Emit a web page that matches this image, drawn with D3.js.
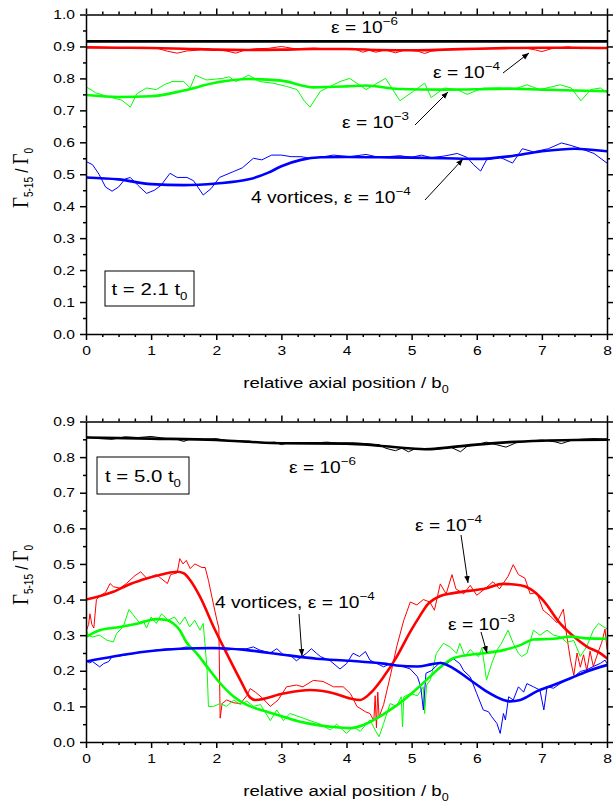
<!DOCTYPE html>
<html>
<head>
<meta charset="utf-8">
<script src="https://cdn.jsdelivr.net/npm/d3@7"></script>
<style>
  html, body { margin: 0; padding: 0; background: #fff; }
  svg { display: block; }
  text { font-family: "Liberation Sans", Arial, sans-serif; fill: #000; }
</style>
</head>
<body>
<svg id="chart" width="613" height="809"></svg>
<script>
// ---- axis ticks ----
const xTicks = [0, 1, 2, 3, 4, 5, 6, 7, 8];
const topYTicks = [0.0, 0.1, 0.2, 0.3, 0.4, 0.5, 0.6, 0.7, 0.8, 0.9, 1.0];
const botYTicks = [0.0, 0.1, 0.2, 0.3, 0.4, 0.5, 0.6, 0.7, 0.8, 0.9];

// ---- t = 2.1 t0 : smoothed (thick) and raw (thin) profiles ----
const topBlackSmooth = [[0,0.916],[2,0.916],[4,0.916],[6,0.916],[8,0.916]];
const topBlackRaw = [[0,0.917],[1,0.916],[2,0.917],[3,0.916],[4,0.916],[5,0.917],[6,0.916],[7,0.916],[8,0.916]];

const topRedSmooth = [[0,0.897],[0.5,0.896],[1,0.895],[1.5,0.893],[2,0.890],[2.5,0.889],[3,0.890],[3.5,0.892],[4,0.892],[4.5,0.889],[5,0.888],[5.5,0.890],[6,0.893],[6.5,0.895],[7,0.896],[7.5,0.896],[8,0.895]];
const topRedRaw = [[0,0.898],[0.3,0.897],[0.6,0.896],[0.9,0.897],[1.1,0.894],[1.25,0.885],[1.4,0.879],[1.55,0.886],[1.7,0.888],[1.85,0.893],[2.0,0.890],[2.15,0.886],[2.3,0.879],[2.45,0.889],[2.6,0.893],[2.8,0.894],[3.0,0.900],[3.2,0.893],[3.5,0.895],[3.8,0.891],[4.1,0.894],[4.25,0.882],[4.35,0.888],[4.45,0.882],[4.6,0.889],[4.75,0.880],[4.9,0.889],[5.1,0.885],[5.2,0.878],[5.3,0.885],[5.5,0.890],[5.8,0.893],[6.1,0.892],[6.4,0.896],[6.7,0.897],[6.9,0.889],[7.0,0.884],[7.15,0.893],[7.4,0.899],[7.6,0.893],[7.8,0.896],[8,0.894]];

const topGreenSmooth = [[0,0.748],[0.5,0.742],[1,0.744],[1.5,0.762],[2,0.787],[2.5,0.798],[3,0.793],[3.5,0.772],[4,0.775],[4.3,0.778],[4.8,0.767],[5.5,0.765],[6,0.766],[6.5,0.768],[7,0.765],[7.5,0.762],[8,0.760]];
const topGreenRaw = [[0,0.774],[0.15,0.755],[0.35,0.742],[0.55,0.732],[0.68,0.71],[0.78,0.752],[0.93,0.77],[1.08,0.765],[1.2,0.78],[1.32,0.79],[1.5,0.79],[1.6,0.77],[1.68,0.81],[1.85,0.795],[2.1,0.80],[2.2,0.805],[2.3,0.79],[2.5,0.81],[2.67,0.79],[2.87,0.785],[3.08,0.775],[3.24,0.765],[3.35,0.73],[3.44,0.71],[3.6,0.76],[3.9,0.79],[4.05,0.80],[4.3,0.765],[4.6,0.80],[4.82,0.73],[5.03,0.76],[5.2,0.785],[5.3,0.74],[5.5,0.77],[5.7,0.765],[5.85,0.75],[6.1,0.77],[6.36,0.77],[6.56,0.765],[6.77,0.78],[6.97,0.765],[7.28,0.78],[7.45,0.77],[7.6,0.73],[7.75,0.765],[7.9,0.77],[8,0.755]];

const topBlueSmooth = [[0,0.49],[0.5,0.484],[1,0.469],[1.5,0.466],[2,0.471],[2.5,0.484],[2.8,0.505],[3.0,0.525],[3.3,0.545],[3.6,0.553],[4,0.554],[4.5,0.553],[5,0.552],[5.5,0.550],[6,0.548],[6.5,0.556],[7,0.572],[7.5,0.580],[8,0.572]];
const topBlueRaw = [[0,0.54],[0.1,0.53],[0.2,0.50],[0.3,0.46],[0.4,0.447],[0.5,0.46],[0.6,0.485],[0.68,0.49],[0.8,0.465],[0.93,0.44],[1.05,0.45],[1.15,0.465],[1.29,0.503],[1.4,0.49],[1.55,0.49],[1.65,0.48],[1.8,0.435],[1.92,0.455],[2.05,0.49],[2.26,0.508],[2.4,0.52],[2.57,0.55],[2.7,0.545],[2.85,0.56],[3.0,0.56],[3.15,0.555],[3.3,0.555],[3.45,0.55],[3.6,0.553],[3.8,0.56],[4.05,0.555],[4.3,0.562],[4.5,0.553],[4.82,0.558],[5.0,0.553],[5.15,0.56],[5.3,0.552],[5.5,0.557],[5.7,0.565],[5.85,0.553],[5.95,0.53],[6.06,0.51],[6.15,0.545],[6.36,0.553],[6.55,0.535],[6.7,0.58],[6.87,0.57],[7.1,0.58],[7.3,0.598],[7.45,0.59],[7.6,0.58],[7.8,0.565],[8,0.535]];

// ---- t = 5.0 t0 ----
const botBlackSmooth = [[0,0.855],[1,0.852],[2,0.848],[2.5,0.843],[3,0.839],[4,0.838],[4.5,0.832],[5,0.824],[5.2,0.822],[5.5,0.826],[6,0.835],[6.5,0.842],[7,0.846],[7.5,0.848],[8,0.849]];
const botBlackRaw = [[0,0.857],[0.2,0.852],[0.4,0.85],[0.6,0.857],[0.8,0.855],[1.0,0.858],[1.2,0.853],[1.4,0.85],[1.5,0.844],[1.6,0.851],[1.8,0.850],[2.0,0.852],[2.15,0.847],[2.3,0.846],[2.5,0.845],[2.7,0.84],[2.9,0.842],[3.0,0.835],[3.1,0.84],[3.3,0.838],[3.5,0.84],[3.7,0.842],[3.9,0.839],[4.1,0.84],[4.3,0.838],[4.5,0.835],[4.6,0.825],[4.75,0.818],[4.85,0.825],[4.95,0.815],[5.05,0.823],[5.2,0.823],[5.4,0.822],[5.6,0.828],[5.75,0.815],[5.85,0.83],[6.0,0.835],[6.15,0.842],[6.3,0.835],[6.45,0.828],[6.6,0.84],[6.8,0.845],[7.0,0.848],[7.2,0.843],[7.3,0.838],[7.45,0.847],[7.6,0.85],[7.8,0.852],[8,0.85]];

const botRedSmooth = [[0,0.40],[0.42,0.422],[0.7,0.445],[0.93,0.459],[1.2,0.472],[1.4,0.478],[1.5,0.474],[1.6,0.454],[1.75,0.408],[1.96,0.323],[2.16,0.249],[2.37,0.174],[2.52,0.125],[2.6,0.118],[3.03,0.136],[3.44,0.146],[3.8,0.137],[4.06,0.122],[4.21,0.118],[4.36,0.136],[4.57,0.183],[4.77,0.239],[4.98,0.31],[5.13,0.355],[5.24,0.385],[5.44,0.41],[5.64,0.418],[6.15,0.432],[6.4,0.444],[6.67,0.44],[6.82,0.43],[7.02,0.398],[7.28,0.333],[7.49,0.296],[7.69,0.268],[7.9,0.249],[8,0.235]];
const botRedRaw = [[0,0.31],[0.04,0.33],[0.06,0.36],[0.09,0.33],[0.12,0.32],[0.16,0.40],[0.21,0.41],[0.3,0.42],[0.37,0.445],[0.42,0.436],[0.52,0.432],[0.62,0.445],[0.75,0.467],[0.84,0.478],[0.93,0.46],[1.08,0.47],[1.25,0.445],[1.3,0.47],[1.4,0.475],[1.44,0.515],[1.49,0.5],[1.54,0.51],[1.6,0.487],[1.67,0.5],[1.78,0.49],[1.83,0.49],[1.88,0.454],[1.96,0.384],[2.01,0.342],[2.04,0.32],[2.06,0.067],[2.09,0.108],[2.16,0.118],[2.27,0.11],[2.37,0.108],[2.47,0.13],[2.52,0.15],[2.6,0.14],[2.7,0.125],[2.83,0.10],[2.95,0.118],[3.08,0.155],[3.23,0.16],[3.33,0.155],[3.49,0.173],[3.64,0.17],[3.8,0.155],[3.95,0.155],[4.06,0.136],[4.16,0.10],[4.29,0.085],[4.36,0.08],[4.42,0.06],[4.44,0.13],[4.46,0.04],[4.48,0.14],[4.5,0.07],[4.57,0.105],[4.67,0.183],[4.77,0.267],[4.88,0.342],[4.98,0.393],[5.08,0.385],[5.18,0.40],[5.28,0.393],[5.35,0.37],[5.44,0.444],[5.53,0.416],[5.62,0.47],[5.68,0.43],[5.8,0.416],[5.9,0.44],[6.0,0.412],[6.15,0.434],[6.25,0.45],[6.35,0.43],[6.48,0.465],[6.56,0.498],[6.64,0.47],[6.74,0.46],[6.82,0.416],[6.92,0.42],[7.02,0.37],[7.13,0.354],[7.23,0.335],[7.33,0.373],[7.38,0.30],[7.44,0.23],[7.49,0.187],[7.54,0.25],[7.59,0.21],[7.64,0.245],[7.69,0.2],[7.74,0.255],[7.79,0.212],[7.86,0.25],[7.92,0.28],[7.97,0.317],[8,0.26]];

const botGreenSmooth = [[0,0.295],[0.21,0.314],[0.52,0.323],[0.8,0.333],[1.08,0.345],[1.25,0.342],[1.34,0.333],[1.44,0.314],[1.54,0.281],[1.7,0.249],[1.86,0.211],[2.06,0.165],[2.27,0.127],[2.47,0.104],[2.78,0.085],[3.03,0.071],[3.29,0.057],[3.54,0.048],[3.8,0.042],[4.06,0.039],[4.26,0.048],[4.47,0.067],[4.67,0.09],[4.88,0.118],[5.09,0.151],[5.29,0.185],[5.44,0.21],[5.64,0.235],[5.9,0.245],[6.15,0.25],[6.41,0.258],[6.67,0.272],[6.87,0.288],[7.18,0.29],[7.44,0.296],[7.69,0.291],[8,0.29]];
const botGreenRaw = [[0,0.323],[0.03,0.30],[0.1,0.295],[0.21,0.30],[0.32,0.286],[0.42,0.281],[0.47,0.305],[0.57,0.323],[0.66,0.372],[0.75,0.351],[0.83,0.333],[0.88,0.34],[0.93,0.32],[1.0,0.351],[1.08,0.333],[1.16,0.36],[1.26,0.342],[1.36,0.351],[1.44,0.33],[1.52,0.351],[1.59,0.323],[1.67,0.342],[1.75,0.314],[1.80,0.333],[1.86,0.202],[1.88,0.10],[1.96,0.10],[2.06,0.108],[2.16,0.10],[2.27,0.118],[2.37,0.105],[2.47,0.115],[2.57,0.10],[2.68,0.105],[2.83,0.06],[2.93,0.09],[3.03,0.06],[3.13,0.08],[3.29,0.07],[3.44,0.06],[3.6,0.05],[3.75,0.034],[3.85,0.05],[4.0,0.024],[4.1,0.043],[4.21,0.03],[4.36,0.062],[4.45,0.03],[4.5,0.015],[4.57,0.052],[4.67,0.108],[4.77,0.1],[4.84,0.127],[4.86,0.042],[4.88,0.127],[4.98,0.136],[5.09,0.13],[5.18,0.155],[5.2,0.08],[5.23,0.16],[5.29,0.175],[5.38,0.249],[5.49,0.277],[5.59,0.267],[5.69,0.249],[5.74,0.277],[5.82,0.24],[5.9,0.26],[5.95,0.25],[6.03,0.24],[6.08,0.265],[6.15,0.174],[6.23,0.221],[6.31,0.258],[6.38,0.277],[6.48,0.314],[6.56,0.277],[6.64,0.249],[6.69,0.24],[6.77,0.249],[6.87,0.314],[6.97,0.3],[7.08,0.314],[7.18,0.3],[7.28,0.296],[7.38,0.28],[7.49,0.285],[7.59,0.24],[7.69,0.268],[7.79,0.314],[7.87,0.333],[7.95,0.323],[8,0.318]];

const botBlueSmooth = [[0,0.226],[0.42,0.24],[0.93,0.254],[1.44,0.262],[1.96,0.264],[2.47,0.258],[3.03,0.245],[3.54,0.234],[4.06,0.228],[4.57,0.22],[4.77,0.215],[5.09,0.212],[5.3,0.218],[5.44,0.222],[5.64,0.207],[5.9,0.174],[6.15,0.142],[6.41,0.118],[6.51,0.114],[6.67,0.118],[6.92,0.142],[7.18,0.16],[7.44,0.179],[7.69,0.198],[8,0.216]];
const botBlueRaw = [[0,0.23],[0.05,0.222],[0.1,0.226],[0.21,0.211],[0.27,0.22],[0.35,0.226],[0.4,0.24],[0.47,0.24],[0.62,0.245],[0.75,0.249],[0.84,0.254],[0.93,0.254],[1.08,0.258],[1.25,0.262],[1.44,0.262],[1.54,0.267],[1.7,0.262],[1.86,0.262],[2.06,0.262],[2.16,0.258],[2.32,0.262],[2.47,0.262],[2.57,0.267],[2.67,0.258],[2.83,0.25],[2.93,0.262],[3.03,0.245],[3.13,0.245],[3.23,0.228],[3.39,0.25],[3.46,0.262],[3.54,0.249],[3.6,0.24],[3.75,0.228],[3.9,0.205],[4.0,0.22],[4.1,0.249],[4.2,0.24],[4.29,0.254],[4.36,0.23],[4.47,0.22],[4.57,0.211],[4.67,0.22],[4.77,0.215],[4.88,0.211],[4.98,0.205],[5.09,0.183],[5.14,0.155],[5.18,0.09],[5.22,0.193],[5.3,0.2],[5.44,0.224],[5.54,0.22],[5.64,0.234],[5.74,0.22],[5.8,0.2],[5.9,0.183],[6.0,0.136],[6.1,0.09],[6.18,0.085],[6.23,0.071],[6.31,0.052],[6.36,0.024],[6.41,0.08],[6.44,0.062],[6.49,0.127],[6.56,0.118],[6.64,0.155],[6.72,0.14],[6.77,0.164],[6.87,0.155],[6.97,0.146],[7.03,0.09],[7.08,0.155],[7.18,0.151],[7.28,0.164],[7.38,0.174],[7.49,0.183],[7.59,0.198],[7.69,0.203],[7.79,0.212],[7.9,0.221],[7.97,0.23],[8,0.22]];

// ---- colours ----
const RED = "#ff0000", GREEN = "#00ff00", BLUE = "#0000ff", BLACK = "#000000";

// ---- drawing ----
const svg = d3.select("#chart");
const SX = 1.2; // horizontal text widening
const plotLeft = 86, plotRight = 607;

svg.append("defs").append("marker")
  .attr("id", "arrowhead")
  .attr("viewBox", "0 0 10 10")
  .attr("refX", 10).attr("refY", 5)
  .attr("markerWidth", 7).attr("markerHeight", 7)
  .attr("markerUnits", "userSpaceOnUse")
  .attr("orient", "auto")
  .append("path").attr("d", "M0,1 L10,5 L0,9 z").attr("fill", "#000");

function minorValues(lo, hi, step) {
  const out = [];
  const n = Math.round((hi - lo) / step);
  for (let i = 0; i <= n; i++) out.push(+(lo + i * step).toFixed(4));
  return out;
}

// text item helper: parts = [{t, size, dy, family}]
function label(g, x, y, parts, anchor) {
  const t = g.append("text")
    .attr("transform", `translate(${x},${y}) scale(${SX},1)`)
    .attr("text-anchor", anchor || "start");
  parts.forEach(p => {
    const s = t.append("tspan").text(p.t).attr("font-size", p.size);
    if (p.dy) s.attr("dy", p.dy);
    if (p.family) s.style("font-family", p.family);
  });
  return t;
}

function epsLabel(g, x, y, exp, size) {
  return label(g, x, y, [
    { t: "\u03b5 = 10", size: size },
    { t: "\u2212" + exp, size: size * 0.7, dy: -size * 0.5 }
  ]);
}

function arrow(g, x1, y1, x2, y2) {
  g.append("line")
    .attr("x1", x1).attr("y1", y1).attr("x2", x2).attr("y2", y2)
    .attr("stroke", "#000").attr("stroke-width", 1)
    .attr("marker-end", "url(#arrowhead)");
}

function panel(cfg) {
  const g = svg.append("g");
  const x = d3.scaleLinear().domain([0, 8]).range([plotLeft, plotRight]);
  const y = d3.scaleLinear().domain([0, cfg.ymax]).range([cfg.bottom, cfg.top]);

  // series: thin raw first, thick smooth on top
  const rawLine = d3.line().x(d => x(d[0])).y(d => y(d[1]));
  const smoothLine = d3.line().x(d => x(d[0])).y(d => y(d[1])).curve(d3.curveMonotoneX);
  const clipId = "clip" + cfg.id;
  g.append("clipPath").attr("id", clipId).append("rect")
    .attr("x", plotLeft).attr("y", cfg.top).attr("width", plotRight - plotLeft).attr("height", cfg.bottom - cfg.top);
  const series = g.append("g").attr("clip-path", `url(#${clipId})`);
  cfg.series.forEach(s => {
    series.append("path").datum(s.raw).attr("d", rawLine)
      .attr("fill", "none").attr("stroke", s.color).attr("stroke-width", 1)
      .attr("stroke-linejoin", "round");
  });
  cfg.series.forEach(s => {
    series.append("path").datum(s.smooth).attr("d", smoothLine)
      .attr("fill", "none").attr("stroke", s.color).attr("stroke-width", 2.6)
      .attr("stroke-linejoin", "round").attr("stroke-linecap", "round");
  });

  const xMinor = minorValues(0, 8, 0.25).filter(v => !Number.isInteger(v));
  const yMinor = minorValues(0, cfg.ymax, 0.05).filter((v, i) => i % 2 === 1);

  function styleAxis(a) {
    a.select(".domain").attr("stroke", "#000").attr("stroke-width", 1.5);
    a.selectAll(".tick line").attr("stroke", "#000").attr("stroke-width", 1.5);
  }

  // bottom axis with labels
  const bx = g.append("g").attr("transform", `translate(0,${cfg.bottom})`)
    .call(d3.axisBottom(x).tickValues(xTicks).tickSize(6).tickSizeOuter(0).tickPadding(5).tickFormat(d3.format("d")));
  styleAxis(bx);
  bx.selectAll(".tick text").attr("font-size", 13).attr("font-family", "Liberation Sans, Arial, sans-serif")
    .attr("fill", "#000").attr("transform", `scale(${SX},1)`).attr("dy", "0.8em");
  g.append("g").attr("transform", `translate(0,${cfg.bottom})`)
    .call(d3.axisBottom(x).tickValues(xMinor).tickSize(3).tickFormat(""))
    .call(a => { a.select(".domain").remove(); a.selectAll("line").attr("stroke", "#000").attr("stroke-width", 1.5); });

  // top axis, no labels
  const tx = g.append("g").attr("transform", `translate(0,${cfg.top})`)
    .call(d3.axisTop(x).tickValues(xTicks).tickSize(6).tickSizeOuter(0).tickFormat(""));
  styleAxis(tx);
  g.append("g").attr("transform", `translate(0,${cfg.top})`)
    .call(d3.axisTop(x).tickValues(xMinor).tickSize(3).tickFormat(""))
    .call(a => { a.select(".domain").remove(); a.selectAll("line").attr("stroke", "#000").attr("stroke-width", 1.5); });

  // left axis with labels
  const ly = g.append("g").attr("transform", `translate(${plotLeft},0)`)
    .call(d3.axisLeft(y).tickValues(cfg.yTicks).tickSize(6).tickSizeOuter(0).tickFormat(d3.format(".1f")));
  styleAxis(ly);
  ly.selectAll(".tick text").attr("font-size", 13).attr("font-family", "Liberation Sans, Arial, sans-serif")
    .attr("fill", "#000").attr("x", -11 / SX).attr("transform", `scale(${SX},1)`);
  g.append("g").attr("transform", `translate(${plotLeft},0)`)
    .call(d3.axisLeft(y).tickValues(yMinor).tickSize(3).tickFormat(""))
    .call(a => { a.select(".domain").remove(); a.selectAll("line").attr("stroke", "#000").attr("stroke-width", 1.5); });

  // right axis, no labels
  const ry = g.append("g").attr("transform", `translate(${plotRight},0)`)
    .call(d3.axisRight(y).tickValues(cfg.yTicks).tickSize(6).tickSizeOuter(0).tickFormat(""));
  styleAxis(ry);
  g.append("g").attr("transform", `translate(${plotRight},0)`)
    .call(d3.axisRight(y).tickValues(yMinor).tickSize(3).tickFormat(""))
    .call(a => { a.select(".domain").remove(); a.selectAll("line").attr("stroke", "#000").attr("stroke-width", 1.5); });

  // x title
  label(g, 346, cfg.bottom + 54, [
    { t: "relative axial position / b", size: 15.5 },
    { t: "0", size: 10.5, dy: 5 }
  ], "middle");

  // y title (rotated)
  const yt = g.append("text")
    .attr("transform", `translate(28,${cfg.yTitleY}) rotate(-90) scale(1,${SX})`)
    .attr("text-anchor", "middle");
  yt.append("tspan").text("\u0393").attr("font-size", 19).style("font-family", "Liberation Serif, Times New Roman, serif");
  yt.append("tspan").text("5-15").attr("font-size", 10).attr("dy", 4);
  yt.append("tspan").text(" / ").attr("font-size", 15).attr("dy", -4);
  yt.append("tspan").text("\u0393").attr("font-size", 19).style("font-family", "Liberation Serif, Times New Roman, serif");
  yt.append("tspan").text("0").attr("font-size", 10).attr("dy", 4);

  // time box
  g.append("rect").attr("x", cfg.box[0]).attr("y", cfg.box[1]).attr("width", cfg.box[2]).attr("height", cfg.box[3])
    .attr("fill", "#fff").attr("stroke", "#000").attr("stroke-width", 1);
  label(g, cfg.box[0] + cfg.box[2] / 2, cfg.box[1] + cfg.box[3] / 2 + 6, [
    { t: cfg.time + " t", size: 17 },
    { t: "0", size: 11, dy: 5 }
  ], "middle");

  return { g, x, y };
}

// ---- upper panel: t = 2.1 t0 ----
const p1 = panel({
  id: 1, top: 14.5, bottom: 334, ymax: 1.0, yTicks: topYTicks, yTitleY: 178,
  box: [105, 271, 89, 35], time: "t = 2.1",
  series: [
    { color: BLACK, raw: topBlackRaw, smooth: topBlackSmooth },
    { color: RED, raw: topRedRaw, smooth: topRedSmooth },
    { color: GREEN, raw: topGreenRaw, smooth: topGreenSmooth },
    { color: BLUE, raw: topBlueRaw, smooth: topBlueSmooth }
  ]
});
epsLabel(p1.g, 331, 33, 6, 16);
epsLabel(p1.g, 433, 78, 4, 16);
arrow(p1.g, 503, 73, 529, 53);
epsLabel(p1.g, 342, 128, 3, 16);
arrow(p1.g, 415, 125, 448, 92);
label(p1.g, 251, 203, [
  { t: "4 vortices, \u03b5 = 10", size: 16 },
  { t: "\u22124", size: 11.2, dy: -8 }
]);
arrow(p1.g, 425, 200, 463, 159);

// ---- lower panel: t = 5.0 t0 ----
const p2 = panel({
  id: 2, top: 421.5, bottom: 742, ymax: 0.9, yTicks: botYTicks, yTitleY: 575,
  box: [97, 457, 92, 37], time: "t = 5.0",
  series: [
    { color: BLACK, raw: botBlackRaw, smooth: botBlackSmooth },
    { color: RED, raw: botRedRaw, smooth: botRedSmooth },
    { color: GREEN, raw: botGreenRaw, smooth: botGreenSmooth },
    { color: BLUE, raw: botBlueRaw, smooth: botBlueSmooth }
  ]
});
epsLabel(p2.g, 289, 473, 6, 16);
epsLabel(p2.g, 415, 531, 4, 16);
arrow(p2.g, 461, 535, 468, 583);
label(p2.g, 215, 608, [
  { t: "4 vortices, \u03b5 = 10", size: 16 },
  { t: "\u22124", size: 11.2, dy: -8 }
]);
arrow(p2.g, 299, 614, 302, 656);
epsLabel(p2.g, 448, 630, 3, 16);
arrow(p2.g, 481, 632, 487, 653);
</script>
</body>
</html>
